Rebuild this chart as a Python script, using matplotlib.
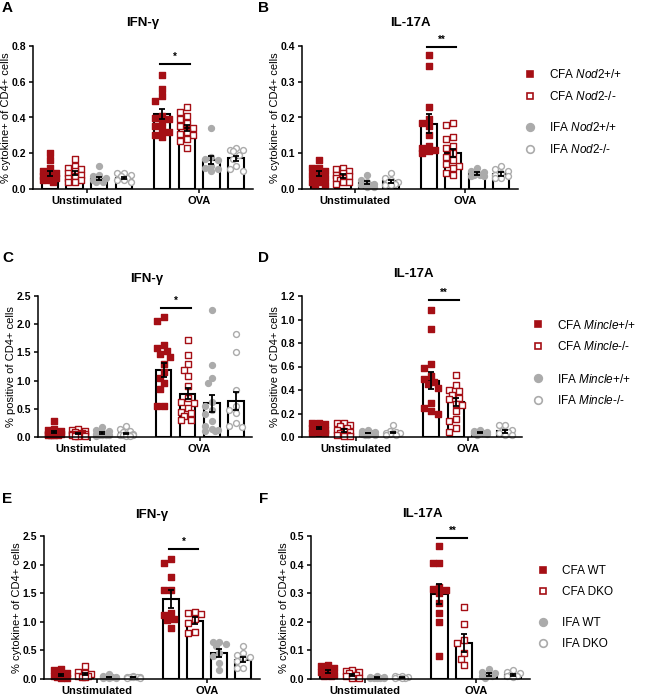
import numpy as np
import matplotlib
matplotlib.use("Agg")
import matplotlib.pyplot as plt
from matplotlib.lines import Line2D
from matplotlib.ticker import FormatStrFormatter, MultipleLocator

plt.rcParams["font.family"] = ["Liberation Sans", "DejaVu Sans"]
plt.rcParams["font.weight"] = "bold"
plt.rcParams["mathtext.fontset"] = "custom"
plt.rcParams["mathtext.it"] = "Liberation Sans:style=italic:weight=normal"
plt.rcParams["mathtext.rm"] = "Liberation Sans:weight=normal"

RED = "#A50F15"
GREY = "#ABABAB"

stims = ["Unstimulated", "OVA"]

# ── panel A: IFN-g, Nod2 ──────────────────────
a_mean = [[0.085, 0.090, 0.058, 0.062], [0.418, 0.340, 0.162, 0.172]]
a_sem = [[0.013, 0.012, 0.009, 0.007], [0.028, 0.018, 0.020, 0.015]]
a_pts = [
    [[0.20, 0.16, 0.12, 0.10, 0.09, 0.08, 0.07, 0.06, 0.06, 0.05, 0.04, 0.05],
     [0.17, 0.13, 0.12, 0.11, 0.10, 0.09, 0.08, 0.07, 0.06, 0.05, 0.04, 0.04],
     [0.13, 0.08, 0.07, 0.06, 0.05, 0.05, 0.04, 0.04],
     [0.09, 0.09, 0.08, 0.07, 0.06, 0.05, 0.05, 0.04]],
    [[0.64, 0.56, 0.52, 0.49, 0.41, 0.40, 0.39, 0.37, 0.35, 0.33, 0.32, 0.30, 0.29],
     [0.46, 0.43, 0.41, 0.39, 0.37, 0.35, 0.34, 0.32, 0.31, 0.30, 0.28, 0.27, 0.23],
     [0.34, 0.18, 0.17, 0.16, 0.13, 0.12, 0.11, 0.10],
     [0.23, 0.22, 0.22, 0.21, 0.19, 0.17, 0.13, 0.11, 0.10]],
]

# ── panel B: IL-17A, Nod2 ─────────────────────
b_mean = [[0.042, 0.036, 0.018, 0.022], [0.183, 0.101, 0.044, 0.042]]
b_sem = [[0.007, 0.005, 0.004, 0.004], [0.027, 0.012, 0.004, 0.005]]
b_pts = [
    [[0.08, 0.06, 0.06, 0.05, 0.04, 0.04, 0.03, 0.03, 0.02, 0.02, 0.01, 0.01],
     [0.06, 0.055, 0.05, 0.045, 0.04, 0.035, 0.03, 0.03, 0.025, 0.02, 0.02, 0.015],
     [0.04, 0.025, 0.02, 0.015, 0.01, 0.01, 0.005, 0.005],
     [0.045, 0.03, 0.025, 0.02, 0.02, 0.015, 0.01, 0.01]],
    [[0.375, 0.345, 0.23, 0.195, 0.185, 0.175, 0.15, 0.12, 0.115, 0.11, 0.105, 0.10],
     [0.185, 0.18, 0.145, 0.14, 0.12, 0.115, 0.10, 0.09, 0.08, 0.07, 0.065, 0.06, 0.045, 0.04],
     [0.06, 0.05, 0.048, 0.045, 0.04, 0.035, 0.04, 0.035],
     [0.065, 0.055, 0.05, 0.045, 0.04, 0.035, 0.03, 0.03]],
]

# ── panel C: IFN-g, Mincle ────────────────────
c_mean = [[0.088, 0.060, 0.070, 0.065], [1.19, 0.77, 0.60, 0.64]]
c_sem = [[0.015, 0.010, 0.012, 0.014], [0.13, 0.10, 0.15, 0.16]]
c_pts = [
    [[0.28, 0.14, 0.12, 0.10, 0.09, 0.08, 0.07, 0.06, 0.05, 0.05, 0.04, 0.04, 0.03, 0.03],
     [0.15, 0.12, 0.10, 0.08, 0.07, 0.06, 0.05, 0.05, 0.04, 0.03, 0.03, 0.02, 0.02, 0.02],
     [0.18, 0.12, 0.10, 0.08, 0.07, 0.06, 0.05, 0.04, 0.04, 0.03, 0.03, 0.02],
     [0.20, 0.15, 0.10, 0.08, 0.06, 0.05, 0.04, 0.04, 0.03, 0.03, 0.02, 0.02]],
    [[2.12, 2.06, 1.63, 1.58, 1.53, 1.48, 1.42, 1.30, 1.15, 1.05, 0.95, 0.85, 0.55, 0.55],
     [1.72, 1.45, 1.29, 1.18, 1.08, 0.91, 0.69, 0.62, 0.60, 0.52, 0.45, 0.42, 0.37, 0.30, 0.30],
     [2.26, 1.28, 1.05, 0.95, 0.62, 0.55, 0.48, 0.40, 0.28, 0.20, 0.15, 0.12, 0.10, 0.10],
     [1.83, 1.51, 0.84, 0.55, 0.48, 0.42, 0.25, 0.20, 0.18]],
]

# ── panel D: IL-17A, Mincle ───────────────────
d_mean = [[0.076, 0.057, 0.034, 0.040], [0.48, 0.30, 0.040, 0.048]]
d_sem = [[0.010, 0.012, 0.004, 0.006], [0.07, 0.035, 0.005, 0.012]]
d_pts = [
    [[0.12, 0.12, 0.11, 0.10, 0.09, 0.08, 0.07, 0.06, 0.05, 0.05, 0.04, 0.03, 0.03],
     [0.12, 0.12, 0.10, 0.09, 0.08, 0.06, 0.05, 0.04, 0.03, 0.02, 0.02, 0.01, 0.01],
     [0.06, 0.05, 0.04, 0.035, 0.03, 0.03, 0.025, 0.02, 0.02, 0.015],
     [0.10, 0.05, 0.04, 0.035, 0.03, 0.03, 0.025, 0.02, 0.02]],
    [[1.08, 0.92, 0.62, 0.585, 0.52, 0.49, 0.47, 0.45, 0.42, 0.29, 0.25, 0.22, 0.20],
     [0.53, 0.44, 0.40, 0.39, 0.36, 0.33, 0.32, 0.28, 0.27, 0.22, 0.15, 0.14, 0.075, 0.045],
     [0.06, 0.05, 0.045, 0.04, 0.035, 0.03, 0.03, 0.025, 0.02],
     [0.10, 0.10, 0.06, 0.05, 0.04, 0.03, 0.02, 0.02]],
]

# ── panel E: IFN-g, DKO ───────────────────────
e_mean = [[0.064, 0.087, 0.035, 0.035], [1.40, 1.02, 0.45, 0.34]]
e_sem = [[0.020, 0.025, 0.008, 0.006], [0.15, 0.06, 0.07, 0.04]]
e_pts = [
    [[0.18, 0.15, 0.10, 0.07, 0.05, 0.04, 0.03, 0.02, 0.02],
     [0.22, 0.13, 0.10, 0.08, 0.06, 0.05, 0.04, 0.03],
     [0.08, 0.06, 0.04, 0.03, 0.03, 0.02, 0.02, 0.01],
     [0.05, 0.04, 0.04, 0.03, 0.03, 0.03, 0.02, 0.02]],
    [[2.10, 2.02, 1.78, 1.56, 1.55, 1.15, 1.12, 1.05, 1.03, 0.90],
     [1.17, 1.16, 1.14, 1.05, 0.98, 0.82, 0.81],
     [0.64, 0.64, 0.62, 0.57, 0.45, 0.40, 0.28, 0.16],
     [0.57, 0.45, 0.42, 0.38, 0.36, 0.31, 0.20, 0.19]],
]

# ── panel F: IL-17A, DKO ──────────────────────
f_mean = [[0.027, 0.015, 0.006, 0.006], [0.296, 0.126, 0.015, 0.015]]
f_sem = [[0.005, 0.004, 0.001, 0.001], [0.035, 0.030, 0.005, 0.003]]
f_pts = [
    [[0.05, 0.045, 0.04, 0.035, 0.03, 0.025, 0.02, 0.015, 0.01, 0.01],
     [0.03, 0.028, 0.025, 0.02, 0.015, 0.01, 0.005, 0.005],
     [0.01, 0.008, 0.007, 0.005, 0.005, 0.004, 0.003, 0.003],
     [0.01, 0.009, 0.008, 0.006, 0.005, 0.004, 0.003]],
    [[0.465, 0.405, 0.405, 0.32, 0.315, 0.31, 0.30, 0.265, 0.23, 0.20, 0.08],
     [0.253, 0.192, 0.135, 0.125, 0.09, 0.07, 0.05],
     [0.035, 0.025, 0.02, 0.015, 0.01, 0.01, 0.005],
     [0.03, 0.025, 0.02, 0.015, 0.012, 0.01, 0.008]],
]

nod2_labels = [r"CFA $\mathit{Nod2}$+/+", r"CFA $\mathit{Nod2}$-/-",
               r"IFA $\mathit{Nod2}$+/+", r"IFA $\mathit{Nod2}$-/-"]
mincle_labels = [r"CFA $\mathit{Mincle}$+/+", r"CFA $\mathit{Mincle}$-/-",
                 r"IFA $\mathit{Mincle}$+/+", r"IFA $\mathit{Mincle}$-/-"]
dko_labels = ["CFA WT", "CFA DKO", "IFA WT", "IFA DKO"]

# group styles: marker, face, edge
STYLES = [("s", RED, RED), ("s", "white", RED), ("o", GREY, GREY), ("o", "white", GREY)]

W, H = 647, 696
BAR_W = 0.145
SPACING = 0.22


def rect(l, r, t, b):
    return [l / W, 1 - b / H, (r - l) / W, (b - t) / H]


def swarm(vals, x0, ypx, xpx=110.0, d=6.5, lim=8.0):
    """Spread points sideways so they don't overlap (pixel units)."""
    vals = np.asarray(vals, float)
    xs = np.full(len(vals), float(x0))
    cands = [0.0]
    k = 1
    while k * d / 2 <= lim:
        cands += [-k * d / 2, k * d / 2]
        k += 1
    placed = []
    for i in np.argsort(-vals, kind="stable"):
        y = vals[i] * ypx
        best, bestgap = 0.0, -1.0
        for c in cands:
            gap = min([np.hypot(c - px, y - py) for px, py in placed], default=1e9)
            if gap >= d:
                best = c
                break
            if gap > bestgap:
                best, bestgap = c, gap
        placed.append((best, y))
        xs[i] = x0 + best / xpx
    return xs


def draw_panel(box, means, sems, pts, ymax, ystep, ylabel, sig_y, stars):
    ax = fig.add_axes(rect(*box))
    hpx = box[3] - box[2]
    wpx = box[1] - box[0]
    ypx = hpx / ymax
    offs = (np.arange(4) - 1.5) * SPACING
    for i in range(2):
        for j in range(4):
            x = i + offs[j]
            m, fc, ec = STYLES[j]
            ax.bar(x, means[i][j], width=BAR_W, color="white", edgecolor="black",
                   linewidth=1.5, zorder=1)
            xs = swarm(pts[i][j], x, ypx)
            ax.scatter(xs, pts[i][j], marker=m, s=15 if m == "s" else 18,
                       facecolor=fc, edgecolor=ec, linewidth=1.0, zorder=2,
                       clip_on=False)
            ax.errorbar(x, means[i][j], yerr=sems[i][j], color="black",
                        capsize=2.5, elinewidth=1.3, capthick=1.3, zorder=3)
    # significance bar between CFA groups at OVA
    x1, x2 = 1 + offs[0] - 0.02, 1 + offs[1] + 0.03
    ax.plot([x1, x2], [sig_y, sig_y], color="black", lw=1.5, clip_on=False)
    ax.text((x1 + x2) / 2, sig_y + ymax * 0.015, stars, ha="center", va="bottom",
            fontsize=7)

    ax.set_xlim(-0.48, 1.48)
    ax.set_ylim(0, ymax)
    ax.yaxis.set_major_locator(MultipleLocator(ystep))
    ax.yaxis.set_major_formatter(FormatStrFormatter("%.1f"))
    ax.set_xticks([0, 1])
    ax.set_xticklabels(stims)
    ax.tick_params(axis="y", labelsize=7.5, width=1.1, length=3, pad=2)
    ax.tick_params(axis="x", labelsize=8, width=1.1, length=3, pad=2)
    ax.spines[["top", "right"]].set_visible(False)
    ax.spines[["left", "bottom"]].set_linewidth(1.1)
    ax.set_ylabel(ylabel, fontsize=8)
    # keep the label inside the figure: right side of text ~22 px left of spine
    lab_px = max(box[0] - 22, 11.5)
    ax.yaxis.set_label_coords((lab_px - box[0]) / wpx, 0.5)
    return ax


def add_legend(labels, x, y1, y2):
    handles = []
    for (m, fc, ec) in STYLES:
        handles.append(Line2D([], [], marker=m, ls="none", markersize=5 if m == "s" else 5.5,
                              markerfacecolor=fc, markeredgecolor=ec, markeredgewidth=1.2))
    for k, yc in ((0, y1), (2, y2)):
        fig.legend(handles[k:k + 2], labels[k:k + 2], loc="center left",
                   bbox_to_anchor=(x / W, 1 - yc / H), frameon=False,
                   prop={"weight": "normal", "size": 8.5}, handlelength=1.0,
                   handletextpad=1.1, labelspacing=0.75, borderpad=0,
                   borderaxespad=0)


fig = plt.figure(figsize=(W / 100, H / 100), dpi=100)

ycyt = "% cytokine+ of CD4+ cells"
ypos = "% positive of CD4+ cells"

draw_panel((33, 253, 46, 189), a_mean, a_sem, a_pts, 0.8, 0.2, ycyt, 0.70, "*")
draw_panel((302, 518, 46, 189), b_mean, b_sem, b_pts, 0.4, 0.1, ycyt, 0.397, "**")
draw_panel((38, 252, 296, 437), c_mean, c_sem, c_pts, 2.5, 0.5, ypos, 2.28, "*")
draw_panel((302, 522, 296, 437), d_mean, d_sem, d_pts, 1.2, 0.2, ypos, 1.17, "**")
draw_panel((44, 260, 536, 679), e_mean, e_sem, e_pts, 2.5, 0.5, ycyt, 2.28, "*")
draw_panel((311, 530, 536, 679), f_mean, f_sem, f_pts, 0.5, 0.1, ycyt, 0.494, "**")

# titles
for (tx, ty, t) in [(143, 26, "IFN-γ"), (410, 26, "IL-17A"),
                    (147, 282, "IFN-γ"), (413, 277, "IL-17A"),
                    (152, 518, "IFN-γ"), (422, 517, "IL-17A")]:
    fig.text(tx / W, 1 - ty / H, t, ha="center", va="baseline", fontsize=9.5)

# panel letters
for (lx, ly, t) in [(2, 12, "A"), (258, 12, "B"), (2, 262, "C"),
                    (258, 262, "D"), (2, 503, "E"), (259, 503, "F")]:
    fig.text(lx / W, 1 - ly / H, t, ha="left", va="baseline", fontsize=11)

add_legend(nod2_labels, 524, 85.5, 138.5)
add_legend(mincle_labels, 532, 336, 390)
add_legend(dko_labels, 537, 581.5, 633.5)

fig.savefig("out.png", dpi=100)
